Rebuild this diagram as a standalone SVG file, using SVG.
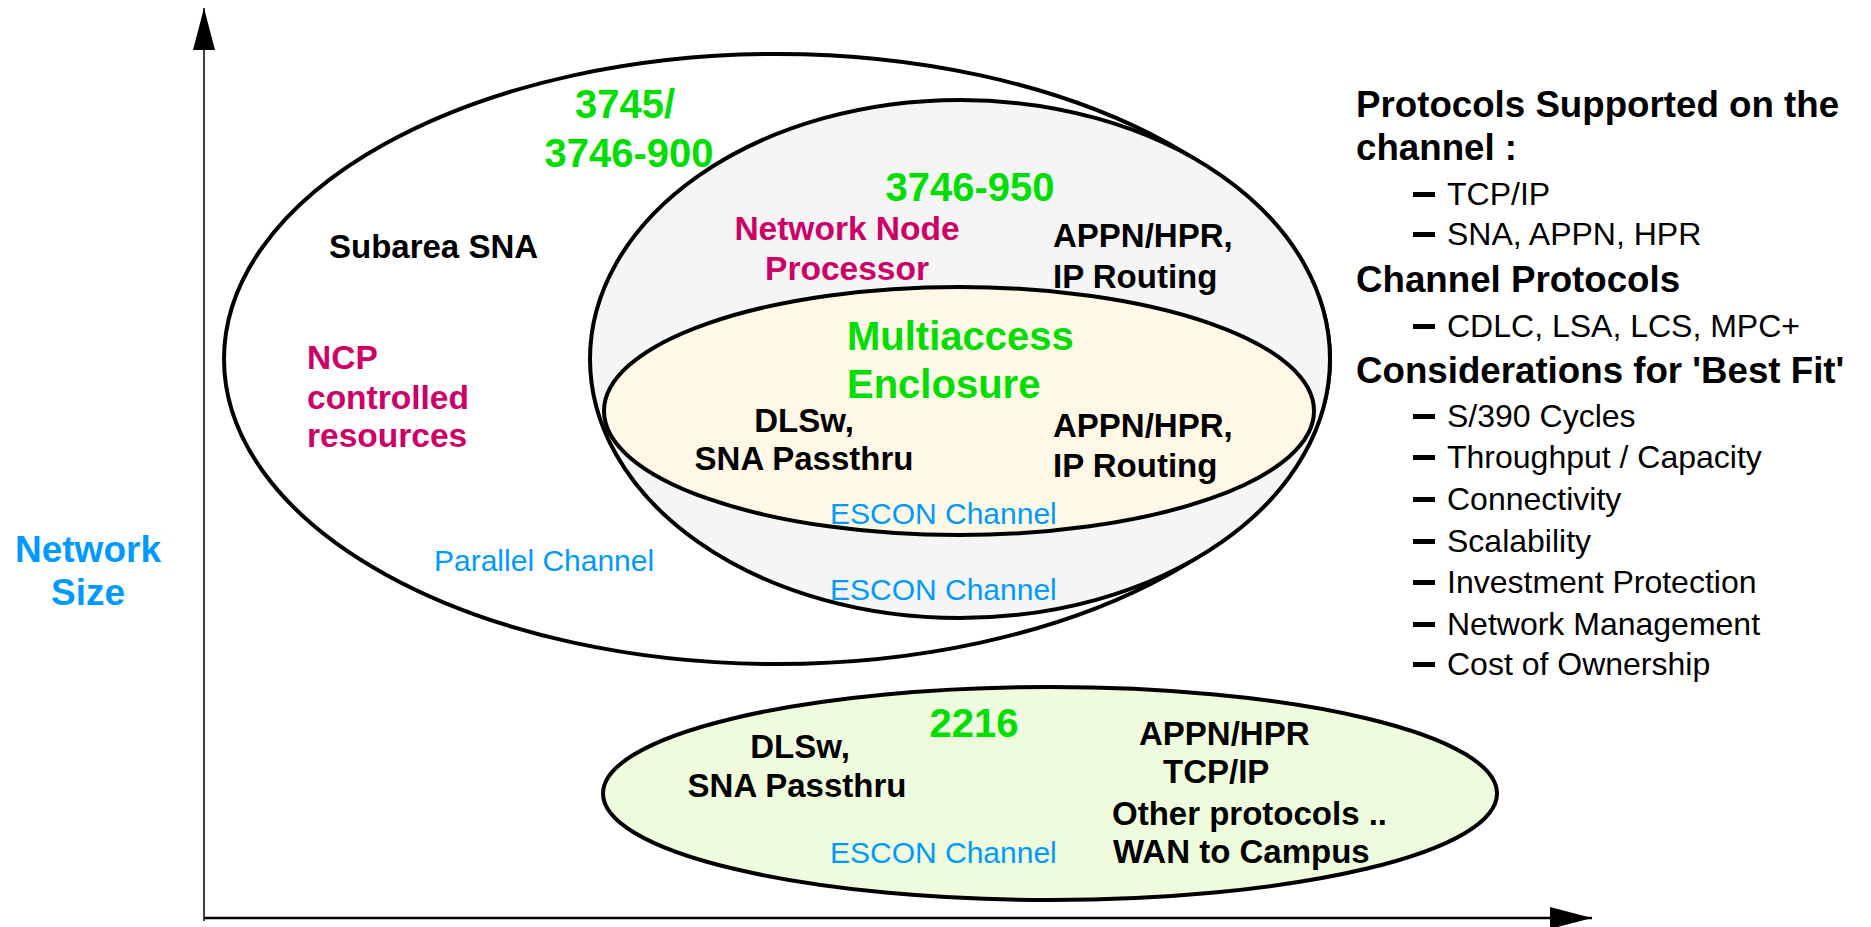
<svg xmlns="http://www.w3.org/2000/svg" width="1871" height="927" viewBox="0 0 1871 927">
<style>
text{font-family:"Liberation Sans",Arial,Helvetica,sans-serif}
.g{fill:#00dd00;font-weight:bold;font-size:40px}
.m{fill:#cc0066;font-weight:bold;font-size:33.5px}
.k{fill:#000;font-weight:bold;font-size:33px}
.b{fill:#0099ff;font-size:30px}
.ax{fill:#0099ff;font-weight:bold;font-size:37px}
.h{fill:#000;font-weight:bold;font-size:36.7px}
.r{fill:#000;font-size:32px}
.mid{text-anchor:middle}
.e{stroke:#000;stroke-width:4}
.bul{fill:#000}
</style>
<defs>
<marker id="arr" viewBox="0 0 42 22" refX="42" refY="11" markerWidth="42" markerHeight="22" markerUnits="userSpaceOnUse" orient="auto">
<path d="M0,0 L42,11 L0,22 Z" fill="#000"/>
</marker>
</defs>
<g id="axes">
<line x1="204" y1="921" x2="204" y2="8" stroke="#000" stroke-width="1.5" marker-end="url(#arr)"/>
<line x1="204" y1="918" x2="1592" y2="918" stroke="#000" stroke-width="2.5" marker-end="url(#arr)"/>
<text class="ax mid" x="88" y="562">Network</text>
<text class="ax mid" x="88" y="605">Size</text>
</g>
<g id="n3745">
<ellipse class="e" cx="777" cy="359" rx="553" ry="305" fill="#ffffff"/>
<text class="g mid" x="625" y="118">3745/</text>
<text class="g mid" x="629" y="167">3746-900</text>
<text class="k" x="329" y="258">Subarea SNA</text>
<text class="m" x="307" y="369">NCP</text>
<text class="m" x="307" y="409">controlled</text>
<text class="m" x="307" y="447">resources</text>
<text class="b" x="434" y="571">Parallel Channel</text>
</g>
<g id="n3746-950">
<ellipse class="e" cx="960" cy="359" rx="370" ry="259" fill="#f5f5f5"/>
<text class="g mid" x="970" y="201">3746-950</text>
<text class="m mid" x="847" y="240">Network Node</text>
<text class="m mid" x="847" y="280">Processor</text>
<text class="k" x="1053" y="247">APPN/HPR,</text>
<text class="k" x="1053" y="288">IP Routing</text>
<text class="b" x="830" y="600">ESCON Channel</text>
</g>
<g id="mae">
<ellipse class="e" cx="959" cy="411" rx="355" ry="124" fill="#fff8e6"/>
<text class="g" x="847" y="350">Multiaccess</text>
<text class="g" x="847" y="398">Enclosure</text>
<text class="k mid" x="804" y="432">DLSw,</text>
<text class="k mid" x="804" y="470">SNA Passthru</text>
<text class="k" x="1053" y="437">APPN/HPR,</text>
<text class="k" x="1053" y="477">IP Routing</text>
<text class="b" x="830" y="524">ESCON Channel</text>
</g>
<g id="n2216">
<ellipse class="e" cx="1050" cy="793.5" rx="447" ry="106.5" fill="#eefcdd"/>
<text class="g mid" x="974" y="737">2216</text>
<text class="k mid" x="800" y="758">DLSw,</text>
<text class="k mid" x="797" y="797">SNA Passthru</text>
<text class="b" x="830" y="863">ESCON Channel</text>
<text class="k" x="1139" y="745">APPN/HPR</text>
<text class="k" x="1163" y="783">TCP/IP</text>
<text class="k" x="1112" y="825">Other protocols ..</text>
<text class="k" x="1113" y="863">WAN to Campus</text>
</g>
<g id="legend">
<text class="h" x="1356" y="117">Protocols Supported on the</text>
<text class="h" x="1356" y="160">channel :</text>
<rect class="bul" x="1413" y="192" width="22" height="5"/><text class="r" x="1447" y="205">TCP/IP</text>
<rect class="bul" x="1413" y="232" width="22" height="5"/><text class="r" x="1447" y="245">SNA, APPN, HPR</text>
<text class="h" x="1356" y="292">Channel Protocols</text>
<rect class="bul" x="1413" y="324" width="22" height="5"/><text class="r" x="1447" y="337">CDLC, LSA, LCS, MPC+</text>
<text class="h" x="1356" y="383">Considerations for 'Best Fit'</text>
<rect class="bul" x="1413" y="414" width="22" height="5"/><text class="r" x="1447" y="427">S/390 Cycles</text>
<rect class="bul" x="1413" y="455" width="22" height="5"/><text class="r" x="1447" y="468">Throughput / Capacity</text>
<rect class="bul" x="1413" y="497" width="22" height="5"/><text class="r" x="1447" y="510">Connectivity</text>
<rect class="bul" x="1413" y="539" width="22" height="5"/><text class="r" x="1447" y="552">Scalability</text>
<rect class="bul" x="1413" y="580" width="22" height="5"/><text class="r" x="1447" y="593">Investment Protection</text>
<rect class="bul" x="1413" y="622" width="22" height="5"/><text class="r" x="1447" y="635">Network Management</text>
<rect class="bul" x="1413" y="662" width="22" height="5"/><text class="r" x="1447" y="675">Cost of Ownership</text>
</g>
</svg>
